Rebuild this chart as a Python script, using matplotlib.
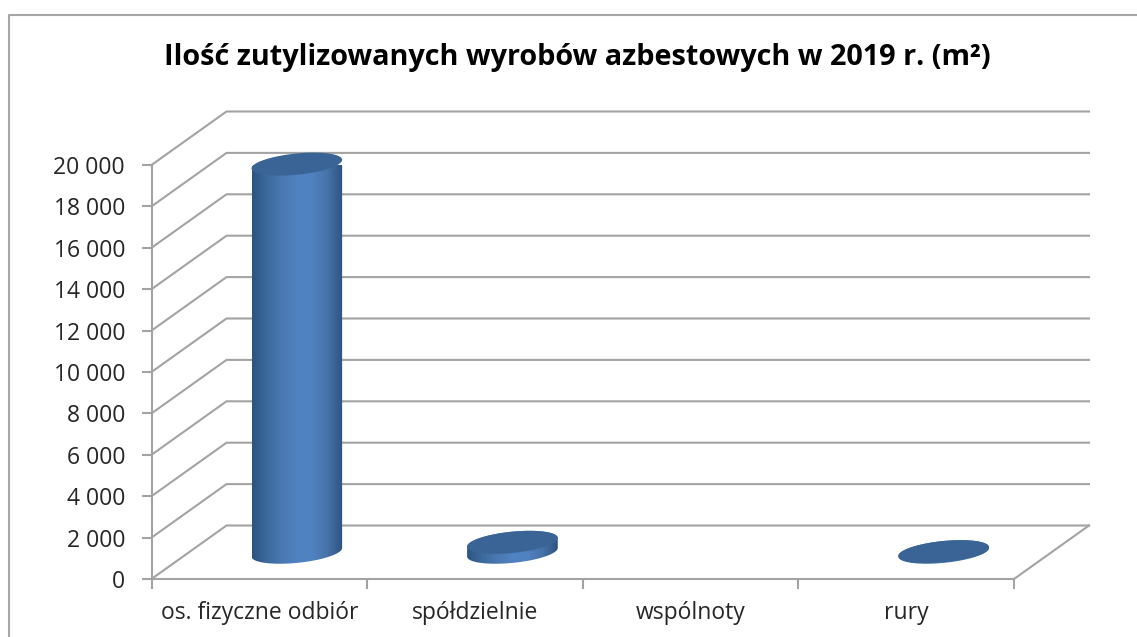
import numpy as np
import matplotlib
matplotlib.use('Agg')
import matplotlib.pyplot as plt
from matplotlib.colors import LinearSegmentedColormap
from matplotlib.lines import Line2D
from matplotlib.patches import Polygon

plt.rcParams['font.family'] = ['Open Sans', 'DejaVu Sans']

title = 'Ilość zutylizowanych wyrobów azbestowych w 2019 r. (m²)'
categories = ['os. fizyczne odbiór', 'spółdzielnie', 'wspólnoty', 'rury']
values = [18750, 480, np.nan, 30]
y_ticks = [0, 2000, 4000, 6000, 8000, 10000, 12000, 14000, 16000, 18000, 20000]
y_labels = ['0', '2 000', '4 000', '6 000', '8 000', '10 000', '12 000', '14 000', '16 000', '18 000', '20 000']

W, H = 1137, 637
GRID = '#a3a3a3'
TEXT = '#262626'
TOP = '#3a6495'
BODY = LinearSegmentedColormap.from_list('body', ['#2d5480', '#3d6a9c', '#4a78b2', '#5083c2',
                                                  '#4f82c0', '#4672a8', '#2d5480'])

fig = plt.figure(figsize=(W / 100, H / 100), dpi=100)
ax = fig.add_axes([151.5 / W, 1 - 579 / H, (1014 - 151.5) / W, (579 - 165) / H])

# depth of the 3D box, in data units
px_x = 4 / (1014 - 151.5)
px_y = 20000 / (579 - 165)
depth_x = 75 * px_x
depth_y = 53.5 * px_y

# ellipse shape in pixels
ELL_A, ELL_B, ELL_H = 42, 17, 11.5


def ellipse(cx, val, t):
    # circle lying on the floor plane, seen through a shear like the box
    x = cx + depth_x / 2 + (ELL_A * np.cos(t) + ELL_B * np.sin(t)) * px_x
    y = val + depth_y / 2 + ELL_H * np.sin(t) * px_y
    return x, y


# gridlines on side and back wall
for v in y_ticks:
    ax.plot([0, depth_x, 4 + depth_x], [v, v + depth_y, v + depth_y],
            color=GRID, lw=1.5, clip_on=False, zorder=1, solid_joinstyle='miter')
ax.plot([4, 4 + depth_x], [0, depth_y], color=GRID, lw=1.5, clip_on=False, zorder=1)

# cylinders
t0 = np.arctan2(ELL_B, ELL_A)
for i, val in enumerate(values):
    if np.isnan(val):
        continue
    cx = i + 0.5
    upper = np.linspace(t0, t0 + np.pi, 80)
    lower = np.linspace(t0 + np.pi, t0 + 2 * np.pi, 80)
    xt, yt = ellipse(cx, val, upper)
    xb, yb = ellipse(cx, 0, lower)
    body = Polygon(np.column_stack([np.r_[xt, xb], np.r_[yt, yb]]), closed=True,
                   fc='none', ec='none', transform=ax.transData)
    ax.add_patch(body)
    xl, xr = min(xt.min(), xb.min()), max(xt.max(), xb.max())
    im = ax.imshow(np.linspace(0, 1, 256)[None, :], cmap=BODY, aspect='auto', zorder=3,
                   interpolation='bilinear', extent=[xl, xr, 0, val + depth_y])
    im.set_clip_path(body)
    xe, ye = ellipse(cx, val, np.linspace(0, 2 * np.pi, 160))
    ax.fill(xe, ye, color=TOP, lw=0, zorder=4, clip_on=False)

ax.set_xlim(0, 4)
ax.set_ylim(0, 20000)
ax.patch.set_visible(False)

# axes
ax.spines[['right', 'top']].set_visible(False)
ax.spines[['left', 'bottom']].set_color(GRID)
ax.spines[['left', 'bottom']].set_linewidth(1.5)
ax.set_yticks(y_ticks, y_labels)
ax.set_xticks([0, 1, 2, 3, 4], [''] * 5)
ax.set_xticks([0.5, 1.5, 2.5, 3.5], categories, minor=True)
ax.tick_params(axis='y', length=7, width=1.5, color=GRID, labelsize=16.5, labelcolor=TEXT, pad=12)
ax.tick_params(axis='x', which='major', length=7, width=1.5, color=GRID)
ax.tick_params(axis='x', which='minor', length=0, labelsize=16.5, labelcolor=TEXT, pad=16)

fig.text(577 / W, 1 - 57 / H, title, ha='center', va='center', fontsize=20.8, fontweight='bold', color='black')

# chart frame, only top and left show in the crop
fig.add_artist(Line2D([9 / W, 9 / W, 1], [0, 1 - 14.5 / H, 1 - 14.5 / H], color='#a6a6a6', lw=1.5))

fig.savefig('out.png', dpi=100)
